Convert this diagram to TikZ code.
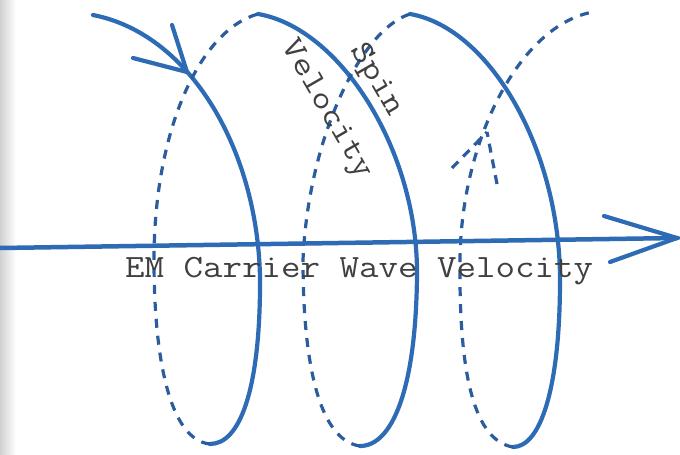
\documentclass[tikz,border=0pt]{standalone}
\usepackage{fontspec}
\usepackage{graphicx}
\begin{document}
\begin{tikzpicture}[x=1pt,y=-1pt,
  front/.style={draw=helixblue,line width=4.2pt,line cap=round},
  back/.style={draw=backblue,line width=3.2pt,dash pattern=on 9pt off 8pt},
  axisline/.style={draw=helixblue,line width=4.5pt,line cap=round},
  barb/.style={draw=helixblue,line width=4.2pt,line cap=round},
  dbarb/.style={draw=backblue,line width=3.2pt,dash pattern=on 9pt off 7pt},
  lbl/.style={inner sep=0pt,text=textgray,font=\fontsize{32.5}{39}\selectfont\ttfamily}]
\definecolor{helixblue}{HTML}{2D6BB5}
\definecolor{backblue}{HTML}{2A5C9E}
\definecolor{textgray}{HTML}{404040}
\useasboundingbox (0,0) rectangle (680,455);
\shade[left color=black!18,right color=white] (0,0) rectangle (16,455);
% helix coordinates
\coordinate (T1) at (93,15);
\coordinate (B1) at (210,444);
\coordinate (T2) at (258,14);
\coordinate (B2) at (360,446);
\coordinate (T3) at (410,14);
\coordinate (B3) at (513,447);
\coordinate (E3) at (593,12);
% front (solid) arcs
\draw[front] (T1) .. controls (195,35) and (262,160) .. (260,290)
  .. controls (259,390) and (240,444) .. (B1);
\draw[front] (T2) .. controls (340,28) and (418,150) .. (417,275)
  .. controls (416,390) and (392,446) .. (B2);
\draw[front] (T3) .. controls (490,28) and (560,150) .. (560,280)
  .. controls (560,390) and (540,447) .. (B3);
% back (dashed) arcs
\draw[back] (B1) .. controls (170,440) and (154,360) .. (154,260)
  .. controls (154,130) and (200,30) .. (T2);
\draw[back] (B2) .. controls (318,440) and (303,360) .. (303,260)
  .. controls (308,140) and (360,30) .. (T3);
\draw[back] (B3) .. controls (470,440) and (459,360) .. (460,260)
  .. controls (461,140) and (520,25) .. (E3);
% arrowhead on first solid arc
\coordinate (A1) at (187,72);
\coordinate (A1u) at (172,25);
\coordinate (A1l) at (133,58);
\draw[barb] (A1u) -- (A1) -- (A1l);
% arrowhead on third dashed arc
\coordinate (A3) at (487,132);
\coordinate (A3l) at (452,168);
\coordinate (A3r) at (497,184);
\draw[dbarb] (A3l) -- (A3);
\draw[dbarb] (A3r) -- (A3);
% main axis
\coordinate (S) at (0,248);
\coordinate (Tip) at (677,238);
\coordinate (Bu) at (604,216);
\coordinate (Bl) at (610,262);
\draw[axisline] (S) -- (Tip);
\draw[barb] (Bu) -- (Tip) -- (Bl);
% labels
\node[lbl,anchor=base west] (em) at (125,277) {\scalebox{1.165}[1]{EM Carrier Wave Velocity}};
\node[lbl,rotate=-60] (spin) at (376,80) {\scalebox{1.165}[1]{Spin}};
\node[lbl,rotate=-60] (vel) at (326,110) {\scalebox{1.165}[1]{Velocity}};
\end{tikzpicture}
\end{document}
